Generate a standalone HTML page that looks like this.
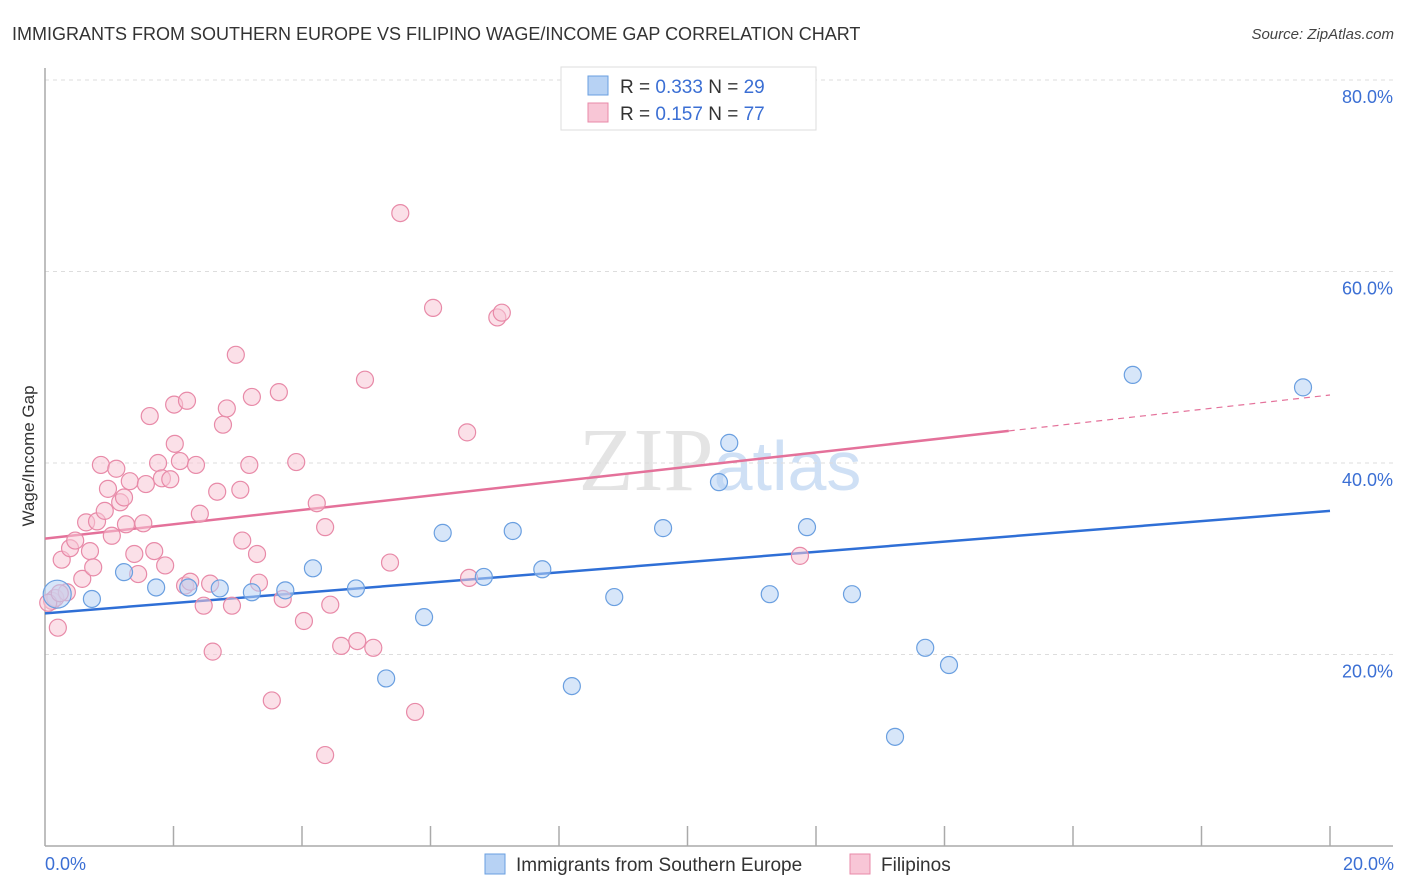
<!DOCTYPE html>
<html><head><meta charset="utf-8"><style>
body{margin:0;background:#fff;font-family:"Liberation Sans",sans-serif;}
</style></head><body>
<svg id="chart" width="1406" height="892" xmlns="http://www.w3.org/2000/svg" style="display:block">
<text x="12" y="40" font-size="18" fill="#333">IMMIGRANTS FROM SOUTHERN EUROPE VS FILIPINO WAGE/INCOME GAP CORRELATION CHART</text>
<text x="1394" y="39" font-size="15" fill="#444" text-anchor="end" font-style="italic">Source: ZipAtlas.com</text>
<text x="720" y="490" font-size="90" fill="#e4e4e4" text-anchor="middle" font-family="Liberation Serif, serif">ZIP<tspan fill="#cfe0f5" font-family="Liberation Sans, sans-serif" font-size="70">atlas</tspan></text>
<text transform="translate(34,456) rotate(-90)" font-size="17" fill="#333" text-anchor="middle">Wage/Income Gap</text>
<g id="grid"></g><g id="axes"></g><g id="lines"></g><g id="pts"></g>
<g>
<rect x="561" y="67" width="255" height="63" fill="#fff" stroke="#ddd"/>
<rect x="588" y="76" width="20" height="19" fill="#b7d2f4" stroke="#6a9fe0"/>
<text x="620" y="93" font-size="19" fill="#333">R = <tspan fill="#3b6fd4">0.333</tspan>   N = <tspan fill="#3b6fd4">29</tspan></text>
<rect x="588" y="103" width="20" height="19" fill="#f8c6d6" stroke="#e88aa8"/>
<text x="620" y="120" font-size="19" fill="#333">R =  <tspan fill="#3b6fd4">0.157</tspan>   N = <tspan fill="#3b6fd4">77</tspan></text>
</g>
<g>
<rect x="485" y="854" width="20" height="20" fill="#b7d2f4" stroke="#6a9fe0"/>
<text x="516" y="871" font-size="19" fill="#333">Immigrants from Southern Europe</text>
<rect x="850" y="854" width="20" height="20" fill="#f8c6d6" stroke="#e88aa8"/>
<text x="881" y="871" font-size="19" fill="#333">Filipinos</text>
</g>
</svg>
<script>
const yTicks=[20,40,60,80];
const yTickLabels=["20.0%","40.0%","60.0%","80.0%"];
const blueX=[0.19,0.73,1.23,1.73,2.23,2.72,3.22,3.74,4.17,4.84,5.31,5.90,6.19,6.83,7.28,7.74,8.20,8.86,9.62,10.49,10.65,11.28,11.86,12.56,13.23,13.70,14.07,16.93,19.58];
const blueY=[26.3,25.8,28.6,27.0,27.0,26.9,26.5,26.7,29.0,26.9,17.5,23.9,32.7,28.1,32.9,28.9,16.7,26.0,33.2,38.0,42.1,26.3,33.3,26.3,11.4,20.7,18.9,49.2,47.9];
const pinkX=[0.11,0.20,0.16,0.26,0.34,0.39,0.47,0.58,0.64,0.70,0.75,0.81,0.87,0.93,0.98,1.04,1.11,1.17,1.23,1.26,1.32,1.39,1.45,1.53,1.57,1.63,1.70,1.76,1.82,1.87,1.95,2.01,2.02,2.10,2.18,2.21,2.26,2.35,2.41,2.47,2.57,2.61,2.68,2.77,2.83,2.91,2.97,3.04,3.07,3.18,3.22,3.30,3.33,3.53,3.64,3.70,3.91,4.03,4.23,4.36,4.36,4.44,4.61,4.86,4.98,5.11,5.37,5.53,5.76,6.04,6.57,6.60,7.04,7.11,11.75,0.05,0.23];
const pinkY=[25.6,22.8,25.9,29.9,26.5,31.1,31.9,27.9,33.8,30.8,29.1,33.9,39.8,35.0,37.3,32.4,39.4,35.9,36.4,33.6,38.1,30.5,28.4,33.7,37.8,44.9,30.8,40.0,38.4,29.3,38.3,46.1,42.0,40.2,27.2,46.5,27.6,39.8,34.7,25.1,27.4,20.3,37.0,44.0,45.7,25.1,51.3,37.2,31.9,39.8,46.9,30.5,27.5,15.2,47.4,25.8,40.1,23.5,35.8,9.5,33.3,25.2,20.9,21.4,48.7,20.7,29.6,66.1,14.0,56.2,43.2,28.0,55.2,55.7,30.3,25.4,26.4];
const blueTrend=[24.3,35.0];
const pinkTrend=[32.1,47.1];
const X0=45,X1=1330,Y0=846,PPY=9.575;
const sx=v=>X0+(v/20)*(X1-X0);
const sy=v=>Y0-v*PPY;
const NS="http://www.w3.org/2000/svg";
function mk(tag,attrs,parent){const e=document.createElementNS(NS,tag);for(const k in attrs)e.setAttribute(k,attrs[k]);document.getElementById(parent).appendChild(e);return e;}
yTicks.forEach((t,i)=>{
 const l=mk('line',{x1:X0,x2:1393,y1:sy(t),y2:sy(t),stroke:'#ddd','stroke-dasharray':'4,4'},'grid');
 
 
 const tx=mk('text',{x:1393,y:sy(t)+23,'font-size':18,fill:'#3b6fd4','text-anchor':'end'},'grid');
 tx.textContent=yTickLabels[i];
 
 
});
const ax=mk('line',{x1:X0,x2:X0,y1:68,y2:Y0,stroke:'#aaa','stroke-width':1.5},'axes');


const bx=mk('line',{x1:X0,x2:1393,y1:Y0,y2:Y0,stroke:'#aaa','stroke-width':1.5},'axes');


for(let i=1;i<=10;i++){const t=mk('line',{x1:sx(i*2),x2:sx(i*2),y1:826,y2:Y0,stroke:'#aaa','stroke-width':1.5},'axes');
 
 }
const xl0=mk('text',{x:45,y:870,'font-size':18,fill:'#3b6fd4'},'axes');xl0.textContent='0.0%';


const xl1=mk('text',{x:1394,y:870,'font-size':18,fill:'#3b6fd4','text-anchor':'end'},'axes');xl1.textContent='20.0%';


function dot(x,y,r,fill,stroke,name){const c=mk('circle',{cx:sx(x),cy:sy(y),r:r,fill:fill,'fill-opacity':0.55,stroke:stroke,'stroke-width':1.2},'pts');
 
 }
pinkX.forEach((x,i)=>dot(x,pinkY[i],8.5,'#f8c6d6','#e88aa8','filipino-point'));
blueX.forEach((x,i)=>dot(x,blueY[i],i===0?14:8.5,'#b7d2f4','#6a9fe0','southern-europe-point'));
const bl=mk('line',{x1:sx(0),y1:sy(blueTrend[0]),x2:sx(20),y2:sy(blueTrend[1]),stroke:'#2f6fd6','stroke-width':2.5},'lines');


const pm=pinkTrend[0]+(pinkTrend[1]-pinkTrend[0])*0.75;
const pl=mk('line',{x1:sx(0),y1:sy(pinkTrend[0]),x2:sx(15),y2:sy(pm),stroke:'#e4719a','stroke-width':2.5},'lines');


const pd=mk('line',{x1:sx(15),y1:sy(pm),x2:sx(20),y2:sy(pinkTrend[1]),stroke:'#e4719a','stroke-width':1.2,'stroke-dasharray':'6,5'},'lines');


</script>
</body></html>
